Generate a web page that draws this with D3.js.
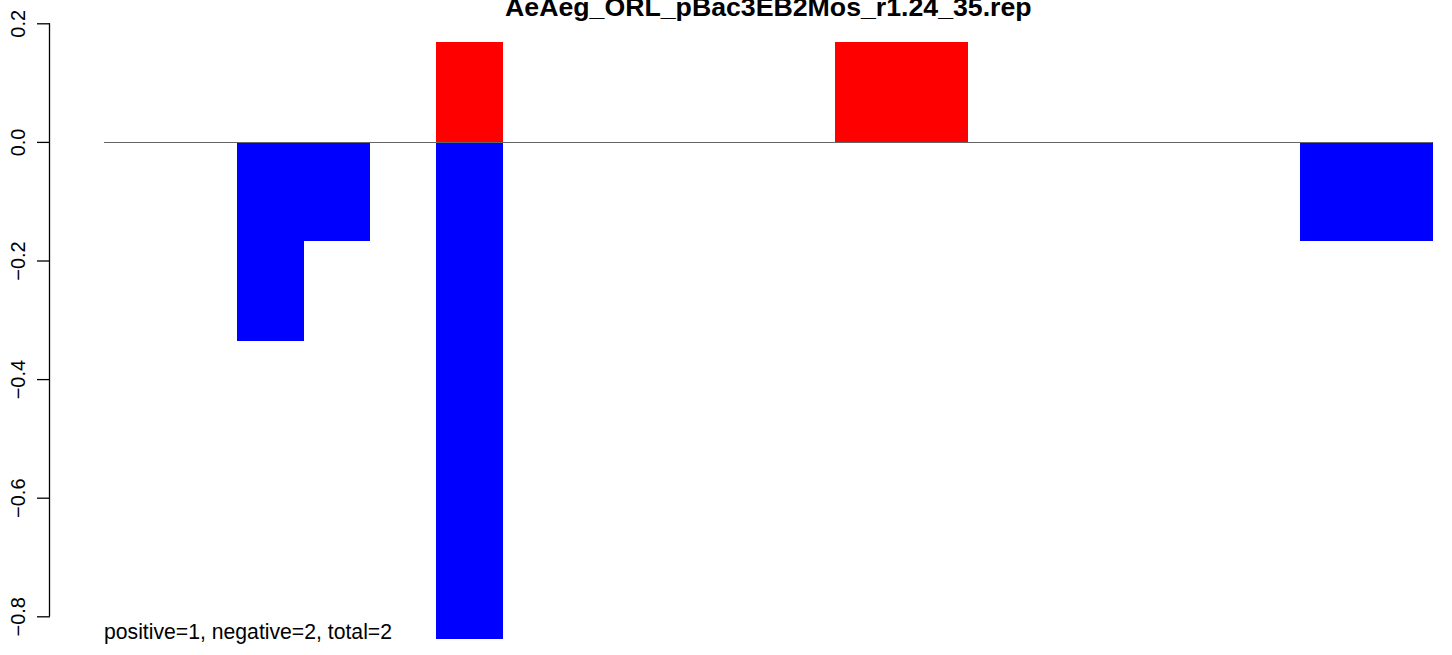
<!DOCTYPE html>
<html>
<head>
<meta charset="utf-8">
<script src="https://cdn.jsdelivr.net/npm/d3@7"></script>
<style>
html,body{margin:0;padding:0;background:#fff;}
svg{display:block;font-family:"Liberation Sans",Arial,Helvetica,sans-serif;}
</style>
</head>
<body>
<script>
const title = "AeAeg_ORL_pBac3EB2Mos_r1.24_35.rep";
const note = "positive=1, negative=2, total=2";
const categories = d3.range(1, 21).map(String);
const positiveValues = [0,0,0,0,0,0.168,0,0,0,0,0,0.168,0.168,0,0,0,0,0,0,0];
const negativeValues = [0,0,-0.336,-0.167,0,-0.838,0,0,0,0,0,0,0,0,0,0,0,0,-0.167,-0.167];
const yTicks = [0.2, 0.0, -0.2, -0.4, -0.6, -0.8];
const yTickLabels = ["0.2", "0.0", "\u22120.2", "\u22120.4", "\u22120.6", "\u22120.8"];

const W = 1452, H = 655;
const svg = d3.select("body").append("svg").attr("width", W).attr("height", H);

const x = d3.scaleBand().domain(categories).range([104, 1432.7]).padding(0);
const y = d3.scaleLinear().domain([-0.8, 0.2]).range([616.3, 23.3]);

// bars
svg.append("g").attr("shape-rendering", "crispEdges").selectAll("rect.pos")
  .data(categories.map((c, i) => ({c, v: positiveValues[i]})).filter(d => d.v !== 0))
  .join("rect")
  .attr("x", d => x(d.c)).attr("width", x.bandwidth() + 0.6)
  .attr("y", d => y(d.v)).attr("height", d => y(0) - y(d.v))
  .attr("fill", "#ff0000");
svg.append("g").attr("shape-rendering", "crispEdges").selectAll("rect.neg")
  .data(categories.map((c, i) => ({c, v: negativeValues[i]})).filter(d => d.v !== 0))
  .join("rect")
  .attr("x", d => x(d.c)).attr("width", x.bandwidth() + 0.6)
  .attr("y", y(0)).attr("height", d => y(d.v) - y(0))
  .attr("fill", "#0000ff");

// zero line
svg.append("line")
  .attr("x1", x.range()[0]).attr("x2", x.range()[1])
  .attr("y1", Math.round(y(0)) + 0.5).attr("y2", Math.round(y(0)) + 0.5)
  .attr("stroke", "#666").attr("stroke-width", 1);

// y axis
const axis = d3.axisLeft(y).tickValues(yTicks).tickSize(13).tickPadding(0)
  .tickFormat((d, i) => yTickLabels[i]);
const ag = svg.append("g").attr("transform", "translate(50,0)").call(axis);
ag.select(".domain").attr("d", `M-0.5,${y(0.2)}V${y(-0.8)}`).attr("stroke", "#000").attr("stroke-width", 1.3).attr("fill","none");
ag.selectAll(".tick line").attr("stroke", "#000").attr("stroke-width", 1.3);
ag.selectAll(".tick text")
  .attr("x", 0).attr("y", 0).attr("dy", null)
  .attr("transform", "translate(-25,0) rotate(-90)")
  .attr("text-anchor", "middle")
  .attr("font-size", 20)
  .attr("fill", "#000")
  .attr("font-family", "Liberation Sans, Arial, sans-serif");

// title
svg.append("text")
  .attr("x", (x.range()[0] + x.range()[1]) / 2).attr("y", 16)
  .attr("text-anchor", "middle")
  .attr("font-weight", "bold").attr("font-size", 26.7)
  .text(title);

// note
svg.append("text")
  .attr("x", 104).attr("y", 639)
  .attr("font-size", 21.2)
  .text(note);
</script>
</body>
</html>
